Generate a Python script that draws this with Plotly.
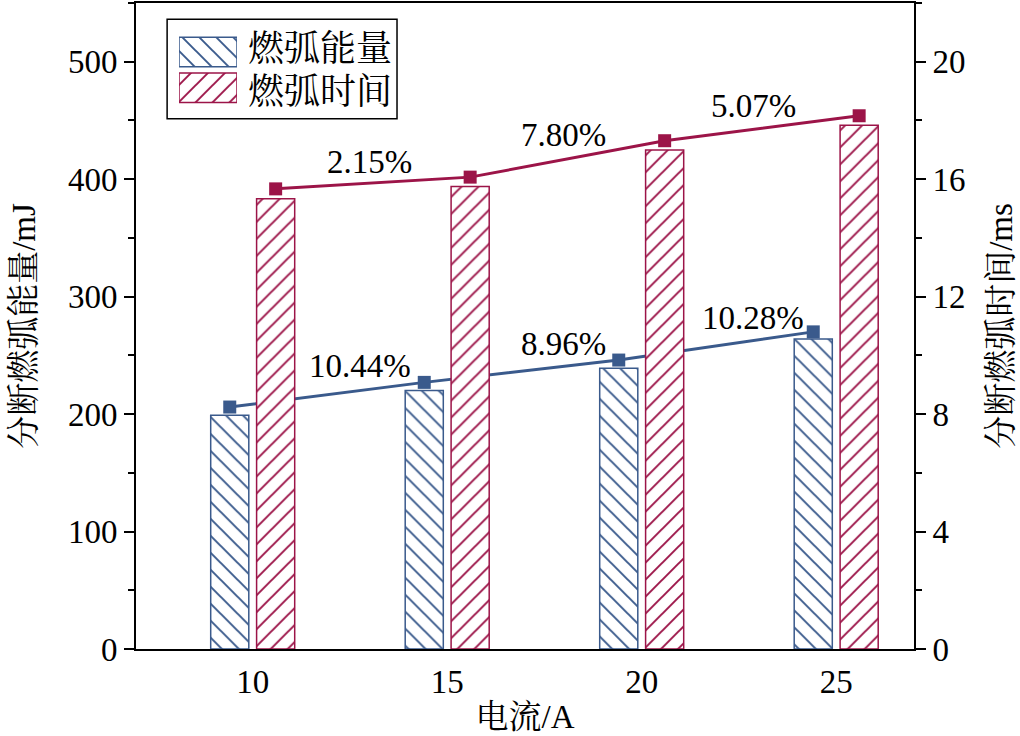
import numpy as np
import plotly.graph_objects as go

# ---- data ----
currents = [10, 15, 20, 25]                      # 电流/A
energy_bar = [199, 220, 239, 264]                # 燃弧能量 (mJ) bar heights
time_bar = [15.33, 15.75, 16.99, 17.84]          # 燃弧时间 (ms) bar heights
energy_line = [206, 227, 246, 270]               # energy trend markers (mJ)
time_line = [15.67, 16.07, 17.31, 18.16]         # time trend markers (ms)
energy_pct = ["10.44%", "8.96%", "10.28%"]
time_pct = ["2.15%", "7.80%", "5.07%"]
energy_pct_y = [241, 260, 282]
time_pct_y = [16.58, 17.49, 18.5]
energy_pct_x = [12.75, 18.0, 22.85]
time_pct_x = [13.0, 18.0, 22.87]
series_names = ["燃弧能量", "燃弧时间"]

BLUE = "#3A5A8C"
RED = "#9C1448"
FONT = "Times New Roman, Liberation Serif, Noto Serif CJK SC, Noto Sans CJK SC"

BARGAP = 0.528
BARGROUPGAP = 0.17
step = currents[1] - currents[0]
offset = step * (1 - BARGAP) / 4  # centre offset of each bar in the group

x = np.array(currents, dtype=float)


def bar_marker(color, shape):
    return dict(color="white", line=dict(color=color, width=1.5),
                pattern=dict(shape=shape, fgcolor=color, bgcolor="white",
                             size=12, solidity=0.16, fgopacity=1))


fig = go.Figure()
fig.add_trace(go.Bar(
    x=currents, y=energy_bar, name=series_names[0], offsetgroup="1", yaxis="y",
    marker=bar_marker(BLUE, "\\"), showlegend=False,
))
fig.add_trace(go.Bar(
    x=currents, y=time_bar, name=series_names[1], offsetgroup="2", yaxis="y2",
    marker=bar_marker(RED, "/"), showlegend=False,
))
fig.add_trace(go.Scatter(
    x=x - offset, y=energy_line, yaxis="y", mode="lines+markers", showlegend=False,
    line=dict(color=BLUE, width=3), marker=dict(symbol="square", size=13, color=BLUE),
))
fig.add_trace(go.Scatter(
    x=x + offset, y=time_line, yaxis="y2", mode="lines+markers", showlegend=False,
    line=dict(color=RED, width=3), marker=dict(symbol="square", size=13, color=RED),
))

# legend swatches (hatched boxes) on a small auxiliary axis inside the legend frame
for nm, col, shp in zip(series_names, [BLUE, RED], ["\\", "/"]):
    fig.add_trace(go.Bar(
        x=[1], y=[nm], orientation="h", xaxis="x3", yaxis="y3", width=0.82,
        marker=bar_marker(col, shp), showlegend=False, hoverinfo="skip",
    ))

annos = []
for t, xx, yy in zip(energy_pct, energy_pct_x, energy_pct_y):
    annos.append(dict(text=t, x=xx, y=yy, xref="x", yref="y", showarrow=False,
                      font=dict(size=33, color="black", family=FONT)))
for t, xx, yy in zip(time_pct, time_pct_x, time_pct_y):
    annos.append(dict(text=t, x=xx, y=yy, xref="x", yref="y2", showarrow=False,
                      font=dict(size=33, color="black", family=FONT)))
# legend texts
for nm, yy in zip(series_names, [0.929, 0.862]):
    annos.append(dict(text=nm, x=0.142, y=yy, xref="paper", yref="paper",
                      xanchor="left", yanchor="middle", showarrow=False,
                      font=dict(size=36, color="black", family=FONT)))

fig.update_layout(
    width=1020, height=736,
    margin=dict(l=136, r=106, t=1, b=87),
    paper_bgcolor="white", plot_bgcolor="white",
    font=dict(family=FONT, size=33, color="black"),
    barmode="group", bargap=BARGAP, bargroupgap=BARGROUPGAP,
    annotations=annos,
    showlegend=False,
    shapes=[dict(type="rect", xref="paper", yref="paper", x0=0.040, x1=0.3355,
                 y0=0.821, y1=0.975, line=dict(color="black", width=1.5),
                 fillcolor="rgba(0,0,0,0)", layer="above")],
    xaxis=dict(range=[7, 27], tickvals=currents, ticktext=[str(c) for c in currents],
               showgrid=False, zeroline=False, showline=True, linecolor="black",
               linewidth=2, mirror=True, ticks="", ticklabelstandoff=2,
               title=dict(text="电流/A", standoff=6, font=dict(size=33))),
    yaxis=dict(range=[0, 550], dtick=100, tick0=0, showgrid=False, zeroline=False,
               showline=True, linecolor="black", linewidth=2, ticks="outside",
               ticklen=10, tickwidth=2, tickcolor="black",
               minor=dict(dtick=50, ticks="outside", ticklen=6, tickwidth=2, tickcolor="black"),
               title=dict(text="分断燃弧能量/mJ", standoff=22, font=dict(size=33))),
    yaxis2=dict(range=[0, 22], dtick=4, tick0=0, overlaying="y", side="right",
                showgrid=False, zeroline=False, showline=True, linecolor="black",
                linewidth=2, ticks="outside", ticklen=10, tickwidth=2, tickcolor="black",
                minor=dict(dtick=2, ticks="outside", ticklen=6, tickwidth=2, tickcolor="black"),
                title=dict(text="分断燃弧时间/ms", standoff=24, font=dict(size=33))),
    xaxis3=dict(domain=[0.0553, 0.1298], anchor="y3", range=[0, 1], visible=False,
                fixedrange=True),
    yaxis3=dict(domain=[0.841, 0.952], anchor="x3", type="category",
                categoryorder="array", categoryarray=series_names[::-1],
                range=[-0.5, 1.5], visible=False, fixedrange=True),
)

fig.write_html("out.html")
